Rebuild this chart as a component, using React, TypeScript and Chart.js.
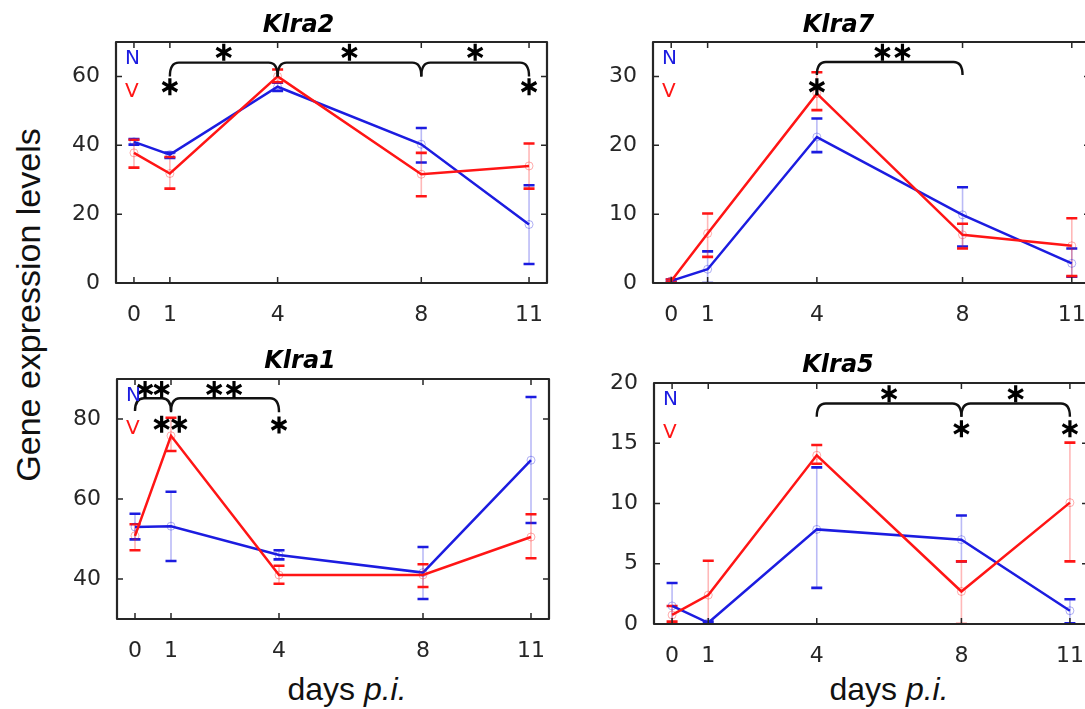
import React, { useEffect, useRef } from "react";
import { Chart, registerables } from "chart.js";
Chart.register(...registerables);

// ---------- data ----------
const days = [0, 1, 4, 8, 11];
const xTickValues = [0, 1, 4, 8, 11];

const klra2Title = "Klra2";
const klra2YTicks = [0, 20, 40, 60];
const klra2NMean = [41, 37.3, 57, 40.3, 17];
const klra2NLow = [40.2, 36.3, 55.8, 35, 5.5];
const klra2NHigh = [41.8, 37.9, 58.2, 45, 28.4];
const klra2VMean = [37.8, 31.8, 60, 31.6, 34];
const klra2VLow = [33.5, 27.4, 58.3, 25.2, 27.4];
const klra2VHigh = [41.6, 36.6, 62, 37.8, 40.5];
const klra2Brackets = [[1, 4, 64, 60], [4, 8, 64, 60], [8, 11, 64, 60]];
const klra2Stars = [[2.5, 67], [6, 67], [9.5, 67], [1, 57], [11, 57]];

const klra7Title = "Klra7";
const klra7YTicks = [0, 10, 20, 30];
const klra7NMean = [0.3, 2, 21.2, 9.9, 2.85];
const klra7NLow = [0.1, 0, 19, 5.3, 0.9];
const klra7NHigh = [0.5, 4.6, 23.9, 13.9, 5];
const klra7VMean = [0.3, 7.2, 27.5, 7, 5.4];
const klra7VLow = [0.1, 3.8, 25.1, 5, 1.0];
const klra7VHigh = [0.5, 10.1, 30.6, 8.6, 9.4];
const klra7Brackets = [[4, 8, 32.1, 30.2]];
const klra7Stars = [[5.8, 33.5], [6.35, 33.5], [4, 28.5]];

const klra1Title = "Klra1";
const klra1YTicks = [40, 60, 80];
const klra1NMean = [53, 53.2, 46, 41.6, 69.7];
const klra1NLow = [49.9, 44.5, 44.9, 35, 54];
const klra1NHigh = [56.3, 61.8, 47.2, 48, 85.5];
const klra1VMean = [50.8, 75.8, 41, 41, 50.5];
const klra1VLow = [47.2, 72, 38.8, 38, 45.2];
const klra1VHigh = [53.7, 80.3, 43.3, 43.7, 56.2];
const klra1Brackets = [[0, 1, 85.2, 82], [1, 4, 85.2, 81.7]];
const klra1Stars = [[0.28, 87.4], [0.74, 87.4], [2.2, 87.4], [2.75, 87.4], [0.74, 78.7], [1.23, 78.7], [4, 78.5]];

const klra5Title = "Klra5";
const klra5YTicks = [0, 5, 10, 15, 20];
const klra5NMean = [1.5, 0.1, 7.85, 7.0, 1.1];
const klra5NLow = [-0.4, 0, 3, 5.2, 0.05];
const klra5NHigh = [3.4, 0.2, 13, 9, 2.05];
const klra5VMean = [0.75, 2.4, 14, 2.7, 10.07];
const klra5VLow = [0.2, -0.4, 13.3, 0, 5.2];
const klra5VHigh = [1.5, 5.25, 14.85, 5.2, 15.05];
const klra5Brackets = [[4, 8, 18.3, 17.2], [8, 11, 18.3, 17.2]];
const klra5Stars = [[6.0, 19.1], [9.5, 19.1], [8, 16.2], [11, 16.2]];

// ---------- styles / layout ----------
const BLUE = "#1c1ce0";
const RED = "#ff1515";
const AXIS = "#262626";
const TICK_FONT = { family: "DejaVu Sans", size: 22 };

const panels = [
  {
    title: klra2Title, yMin: 0, yMax: 70, yTicks: klra2YTicks,
    n: [klra2NMean, klra2NLow, klra2NHigh], v: [klra2VMean, klra2VLow, klra2VHigh],
    brackets: klra2Brackets, stars: klra2Stars,
    box: { left: 50, top: 0, width: 560, height: 323, padRight: 63, titleTop: 11, titleBottom: 2.2 },
  },
  {
    title: klra7Title, yMin: 0, yMax: 35, yTicks: klra7YTicks,
    n: [klra7NMean, klra7NLow, klra7NHigh], v: [klra7VMean, klra7VLow, klra7VHigh],
    brackets: klra7Brackets, stars: klra7Stars,
    box: { left: 587, top: 0, width: 536, height: 323, padRight: 33, titleTop: 11, titleBottom: 2.2 },
  },
  {
    title: klra1Title, yMin: 30, yMax: 90, yTicks: klra1YTicks,
    n: [klra1NMean, klra1NLow, klra1NHigh], v: [klra1VMean, klra1VLow, klra1VHigh],
    brackets: klra1Brackets, stars: klra1Stars,
    box: { left: 51, top: 320, width: 561, height: 339, padRight: 63, titleTop: 27.6, titleBottom: 2.6 },
  },
  {
    title: klra5Title, yMin: 0, yMax: 20, yTicks: klra5YTicks,
    n: [klra5NMean, klra5NLow, klra5NHigh], v: [klra5VMean, klra5VLow, klra5VHigh],
    brackets: klra5Brackets, stars: klra5Stars,
    box: { left: 588, top: 320, width: 534, height: 344, padRight: 34, titleTop: 31.6, titleBottom: 2.6 },
  },
];

function drawErr(ctx: any, x: any, y: any, mean: number[], lo: number[], hi: number[], color: string, faint: string) {
  for (let i = 0; i < days.length; i++) {
    const px = x.getPixelForValue(days[i]);
    const pt = y.getPixelForValue(hi[i]);
    const pb = y.getPixelForValue(lo[i]);
    ctx.strokeStyle = faint;
    ctx.lineWidth = 1.6;
    ctx.beginPath();
    ctx.moveTo(px, pt);
    ctx.lineTo(px, pb);
    ctx.stroke();
    ctx.strokeStyle = color;
    ctx.lineWidth = 2.6;
    ctx.beginPath();
    ctx.moveTo(px - 5.5, pt);
    ctx.lineTo(px + 5.5, pt);
    ctx.moveTo(px - 5.5, pb);
    ctx.lineTo(px + 5.5, pb);
    ctx.stroke();
  }
}

function drawStar(ctx: any, cx: number, cy: number, r: number) {
  ctx.beginPath();
  [90, 30, 150].forEach((deg) => {
    const a = (deg * Math.PI) / 180;
    ctx.moveTo(cx - r * Math.cos(a), cy - r * Math.sin(a));
    ctx.lineTo(cx + r * Math.cos(a), cy + r * Math.sin(a));
  });
  ctx.stroke();
}

function makePlugin(p: any) {
  return {
    id: "panelDecor",
    beforeDatasetsDraw(chart: any) {
      const { ctx, chartArea: a, scales } = chart;
      const x = scales.x, y = scales.y;
      ctx.save();
      ctx.beginPath();
      ctx.rect(a.left, a.top, a.right - a.left, a.bottom - a.top);
      ctx.clip();
      ctx.lineCap = "butt";
      drawErr(ctx, x, y, p.n[0], p.n[1], p.n[2], BLUE, "rgba(28,28,224,0.3)");
      drawErr(ctx, x, y, p.v[0], p.v[1], p.v[2], RED, "rgba(255,21,21,0.3)");
      ctx.restore();
    },
    afterDatasetsDraw(chart: any) {
      const { ctx, chartArea: a, scales } = chart;
      const x = scales.x, y = scales.y;
      ctx.save();
      // brackets
      ctx.strokeStyle = "#111";
      ctx.lineWidth = 2.4;
      ctx.lineJoin = "round";
      p.brackets.forEach((b: number[]) => {
        const x1 = x.getPixelForValue(b[0]);
        const x2 = x.getPixelForValue(b[1]);
        const yl = y.getPixelForValue(b[2]);
        const ye = y.getPixelForValue(b[3]);
        const d = 9;
        ctx.beginPath();
        ctx.moveTo(x1, ye);
        ctx.quadraticCurveTo(x1, yl, x1 + d, yl);
        ctx.lineTo(x2 - d, yl);
        ctx.quadraticCurveTo(x2, yl, x2, ye);
        ctx.stroke();
      });
      // stars
      ctx.lineWidth = 3.2;
      ctx.strokeStyle = "#000";
      p.stars.forEach((s: number[]) => {
        drawStar(ctx, x.getPixelForValue(s[0]), y.getPixelForValue(s[1]), 8.5);
      });
      // legend text
      ctx.font = "20px 'DejaVu Sans'";
      ctx.textAlign = "left";
      ctx.textBaseline = "middle";
      ctx.fillStyle = BLUE;
      ctx.fillText("N", a.left + 9, a.top + 17);
      ctx.fillStyle = RED;
      ctx.fillText("V", a.left + 9, a.top + 50);
      // box + inward ticks
      ctx.strokeStyle = AXIS;
      ctx.lineWidth = 2.2;
      ctx.strokeRect(a.left, a.top, a.right - a.left, a.bottom - a.top);
      ctx.lineWidth = 1.5;
      ctx.beginPath();
      xTickValues.forEach((v) => {
        const px = x.getPixelForValue(v);
        ctx.moveTo(px, a.bottom);
        ctx.lineTo(px, a.bottom - 6);
        ctx.moveTo(px, a.top);
        ctx.lineTo(px, a.top + 6);
      });
      p.yTicks.forEach((v: number) => {
        const py = y.getPixelForValue(v);
        ctx.moveTo(a.left, py);
        ctx.lineTo(a.left + 6, py);
        ctx.moveTo(a.right, py);
        ctx.lineTo(a.right - 6, py);
      });
      ctx.stroke();
      ctx.restore();
    },
  };
}

function Panel({ p }: { p: any }) {
  const ref = useRef<HTMLCanvasElement | null>(null);
  useEffect(() => {
    if (!ref.current) return;
    const pointStyle = (c: string) => ({
      pointRadius: 4,
      pointBorderWidth: 1,
      pointBorderColor: c,
      pointBackgroundColor: "rgba(0,0,0,0)",
    });
    const chart = new Chart(ref.current, {
      type: "line",
      data: {
        datasets: [
          {
            label: "V",
            data: days.map((d, i) => ({ x: d, y: p.v[0][i] })),
            borderColor: RED,
            borderWidth: 2.5,
            ...pointStyle("rgba(255,21,21,0.35)"),
          },
          {
            label: "N",
            data: days.map((d, i) => ({ x: d, y: p.n[0][i] })),
            borderColor: BLUE,
            borderWidth: 2.5,
            ...pointStyle("rgba(28,28,224,0.35)"),
          },
        ],
      },
      options: {
        responsive: false,
        animation: false,
        devicePixelRatio: 1,
        layout: { padding: { top: 0, left: 0, right: p.box.padRight, bottom: 0 } },
        plugins: {
          legend: { display: false },
          tooltip: { enabled: false },
          title: {
            display: true,
            text: p.title,
            color: "#000",
            font: { family: "DejaVu Sans", size: 24, weight: "bold", style: "italic", lineHeight: 1.2 },
            padding: { top: p.box.titleTop, bottom: p.box.titleBottom },
          },
        },
        scales: {
          x: {
            type: "linear",
            min: -0.5,
            max: 11.5,
            grid: { display: false },
            border: { display: false },
            afterBuildTicks: (s: any) => {
              s.ticks = xTickValues.map((v) => ({ value: v }));
            },
            afterFit: (s: any) => {
              s.height = 40;
            },
            ticks: { color: AXIS, font: TICK_FONT, padding: 11, maxRotation: 0, autoSkip: false },
          },
          y: {
            type: "linear",
            min: p.yMin,
            max: p.yMax,
            grid: { display: false },
            border: { display: false },
            afterBuildTicks: (s: any) => {
              s.ticks = p.yTicks.map((v: number) => ({ value: v }));
            },
            afterFit: (s: any) => {
              s.width = 66;
            },
            ticks: { color: AXIS, font: TICK_FONT, padding: 8 },
          },
        },
      } as any,
      plugins: [makePlugin(p)],
    });
    return () => chart.destroy();
  }, [p]);
  return (
    <canvas
      ref={ref}
      width={p.box.width}
      height={p.box.height}
      style={{
        position: "absolute",
        left: p.box.left,
        top: p.box.top,
        width: p.box.width,
        height: p.box.height,
        display: "block",
      }}
    />
  );
}

const labelFont = "'Liberation Sans', Arial, sans-serif";

export default function App() {
  return (
    <div
      style={{
        position: "fixed",
        left: 0,
        top: 0,
        width: 1085,
        height: 709,
        overflow: "hidden",
        background: "#fff",
      }}
    >
      {panels.map((p, i) => (
        <Panel key={i} p={p} />
      ))}
      <div
        style={{
          position: "absolute",
          left: 28,
          top: 305,
          transform: "translate(-50%, -50%) rotate(-90deg)",
          whiteSpace: "nowrap",
          fontFamily: labelFont,
          fontSize: 34,
          lineHeight: "34px",
          color: "#111",
        }}
      >
        Gene expression levels
      </div>
      {[347, 889].map((cx, i) => (
        <div
          key={i}
          style={{
            position: "absolute",
            left: cx,
            top: 673,
            transform: "translateX(-50%)",
            whiteSpace: "nowrap",
            fontFamily: labelFont,
            fontSize: 32,
            lineHeight: "32px",
            color: "#111",
          }}
        >
          days <i>p.i.</i>
        </div>
      ))}
    </div>
  );
}
